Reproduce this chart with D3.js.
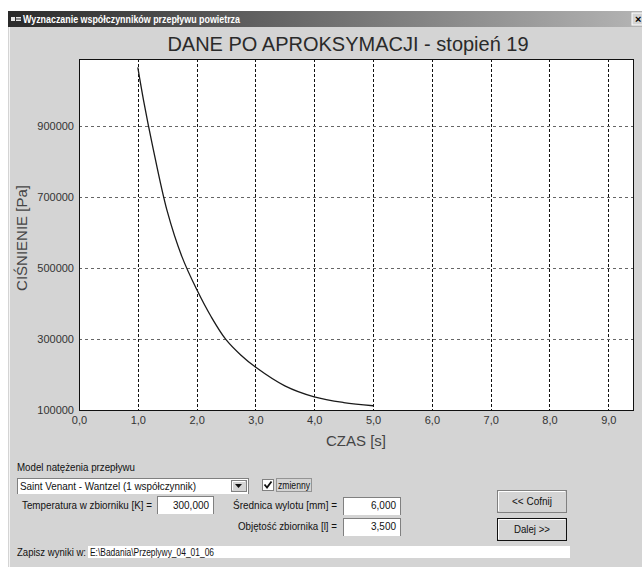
<!DOCTYPE html>
<html>
<head>
<meta charset="utf-8">
<script src="https://cdn.jsdelivr.net/npm/d3@7"></script>
<style>
  body { margin: 0; background: #fff; }
  text { font-family: "Liberation Sans", Arial, sans-serif; }
</style>
</head>
<body>
<div id="chart"></div>
<script>
// values
const timeS = [1.0, 1.1, 1.25, 1.5, 1.75, 2.0, 2.25, 2.5, 2.75, 3.0, 3.5, 4.0, 4.5, 5.0];
const pressurePa = [1065000, 970000, 845000, 660000, 532000, 440000, 362000, 298000, 255000, 221000, 168000, 137000, 121000, 112000];
const xTicks = [0, 1, 2, 3, 4, 5, 6, 7, 8, 9];
const yTicks = [100000, 300000, 500000, 700000, 900000];

const chartTitle = "DANE PO APROKSYMACJI - stopień 19";
const xLabel = "CZAS [s]";
const yLabel = "CIŚNIENIE [Pa]";

const W = 642, H = 567;
const plot = {left: 79, right: 633, top: 59, bottom: 410};

const svg = d3.select("#chart").append("svg")
  .attr("width", W)
  .attr("height", H);

// window chrome
const grad = svg.append("defs").append("linearGradient").attr("id", "tb");
grad.append("stop").attr("offset", "0%").attr("stop-color", "#2a2a2a");
grad.append("stop").attr("offset", "100%").attr("stop-color", "#b4b4b4");

svg.append("rect").attr("x", 8).attr("y", 11).attr("width", W - 8).attr("height", H - 11).attr("fill", "#d4d4d4");
svg.append("line").attr("x1", 9.5).attr("x2", 9.5).attr("y1", 27).attr("y2", H).attr("stroke", "#f4f4f4");
svg.append("rect").attr("x", 8).attr("y", 11).attr("width", W - 8).attr("height", 16).attr("fill", "url(#tb)");
svg.append("rect").attr("x", 11).attr("y", 17).attr("width", 4).attr("height", 4).attr("fill", "#e8e8e8");
svg.append("rect").attr("x", 16).attr("y", 17).attr("width", 5).attr("height", 1.5).attr("fill", "#e8e8e8");
svg.append("rect").attr("x", 16).attr("y", 19.5).attr("width", 5).attr("height", 1.5).attr("fill", "#e8e8e8");
svg.append("text").attr("x", 23).attr("y", 23)
  .attr("fill", "#fff").attr("font-weight", "bold").attr("font-size", 11)
  .attr("textLength", 217).attr("lengthAdjust", "spacingAndGlyphs")
  .text("Wyznaczanie współczynników przepływu powietrza");
svg.append("rect").attr("x", 632).attr("y", 13).attr("width", 12).attr("height", 12).attr("fill", "#d4d4d4").attr("stroke", "#fff");
svg.append("text").attr("x", 635).attr("y", 23).attr("font-size", 11).attr("font-weight", "bold").text("×");

// chart
const x = d3.scaleLinear().domain([0, 9.42]).range([plot.left, plot.right]);
const y = d3.scaleLinear().domain([100000, 1088700]).range([plot.bottom, plot.top]);

svg.append("text")
  .attr("x", 348).attr("y", 51)
  .attr("text-anchor", "middle")
  .attr("font-size", 20)
  .attr("fill", "#2a2a2a")
  .text(chartTitle);

svg.append("rect")
  .attr("x", plot.left).attr("y", plot.top)
  .attr("width", plot.right - plot.left).attr("height", plot.bottom - plot.top)
  .attr("fill", "#fff");

svg.append("g").selectAll("line")
  .data(xTicks.filter(d => d > 0))
  .join("line")
  .attr("x1", d => Math.round(x(d)) + 0.5).attr("x2", d => Math.round(x(d)) + 0.5)
  .attr("y1", plot.top).attr("y2", plot.bottom)
  .attr("stroke", "#111").attr("stroke-dasharray", "3,2");

svg.append("g").selectAll("line")
  .data(yTicks.filter(d => d > 100000))
  .join("line")
  .attr("x1", plot.left).attr("x2", plot.right)
  .attr("y1", d => Math.round(y(d)) + 0.5).attr("y2", d => Math.round(y(d)) + 0.5)
  .attr("stroke", "#666").attr("stroke-dasharray", "3,3");

const line = d3.line()
  .x((d, i) => x(timeS[i]))
  .y(d => y(d))
  .curve(d3.curveCatmullRom.alpha(0.5));

svg.append("path")
  .datum(pressurePa)
  .attr("d", line)
  .attr("fill", "none")
  .attr("stroke", "#1a1a1a")
  .attr("stroke-width", 1.3);

svg.append("rect")
  .attr("x", plot.left + 0.5).attr("y", plot.top + 0.5)
  .attr("width", plot.right - plot.left).attr("height", plot.bottom - plot.top)
  .attr("fill", "none").attr("stroke", "#111");

// axes
const xAxis = svg.append("g")
  .attr("transform", `translate(0,${plot.bottom})`)
  .call(d3.axisBottom(x).tickValues(xTicks).tickSize(0).tickPadding(6)
    .tickFormat(d => d3.format(".1f")(d).replace(".", ",")));
xAxis.select(".domain").remove();
xAxis.selectAll("text").attr("font-size", 11).attr("fill", "#333").attr("font-family", "Liberation Sans");

const yAxis = svg.append("g")
  .attr("transform", `translate(${plot.left - 5},0)`)
  .call(d3.axisLeft(y).tickValues(yTicks).tickSize(0).tickPadding(0).tickFormat(d3.format("d")));
yAxis.select(".domain").remove();
yAxis.selectAll("text").attr("font-size", 11).attr("fill", "#333").attr("font-family", "Liberation Sans");

svg.append("text")
  .attr("x", 356).attr("y", 446)
  .attr("text-anchor", "middle")
  .attr("font-size", 15).attr("fill", "#444")
  .text(xLabel);

svg.append("text")
  .attr("transform", "translate(27,238) rotate(-90)")
  .attr("text-anchor", "middle")
  .attr("font-size", 15).attr("fill", "#444")
  .text(yLabel);

// form controls below the chart
const ui = svg.append("g").attr("font-size", 11).attr("fill", "#111");

function label(txt, x0, yb, len, anchor) {
  ui.append("text").attr("x", x0).attr("y", yb)
    .attr("text-anchor", anchor || "start")
    .attr("textLength", len).attr("lengthAdjust", "spacingAndGlyphs")
    .text(txt);
}

function field(x0, y0, w, h) {
  ui.append("rect").attr("x", x0 + 0.5).attr("y", y0 + 0.5).attr("width", w).attr("height", h)
    .attr("fill", "#fff").attr("stroke", "#808080");
  ui.append("line").attr("x1", x0 + 1).attr("x2", x0 + w).attr("y1", y0 + h + 0.5).attr("y2", y0 + h + 0.5).attr("stroke", "#fff");
}

function button(x0, y0, w, h, dark) {
  ui.append("rect").attr("x", x0 + 0.5).attr("y", y0 + 0.5).attr("width", w).attr("height", h)
    .attr("fill", "#d4d4d4").attr("stroke", dark ? "#111" : "#808080");
  ui.append("polyline")
    .attr("points", `${x0 + 1.5},${y0 + h - 1} ${x0 + 1.5},${y0 + 1.5} ${x0 + w - 1},${y0 + 1.5}`)
    .attr("fill", "none").attr("stroke", "#fff");
}

label("Model natężenia przepływu", 17, 471, 118);

field(17, 478, 231, 15);
label("Saint Venant - Wantzel (1 współczynnik)", 20, 490, 176);
button(231, 480, 15, 11);
ui.append("path").attr("d", "M235,484 L242,484 L238.5,488 Z").attr("fill", "#111");

ui.append("rect").attr("x", 262.5).attr("y", 479.5).attr("width", 11).attr("height", 11)
  .attr("fill", "#fff").attr("stroke", "#808080");
ui.append("path").attr("d", "M264.5,484.5 L267,487.5 L271.5,481.5")
  .attr("fill", "none").attr("stroke", "#111").attr("stroke-width", 1.8);
ui.append("rect").attr("x", 276.5).attr("y", 478.5).attr("width", 35).attr("height", 13)
  .attr("fill", "none").attr("stroke", "#555").attr("stroke-dasharray", "1,1");
label("zmienny", 278, 489, 32);

label("Temperatura w zbiorniku [K] =", 22, 509, 130);
field(157, 496, 56, 17);
label("300,000", 209, 509, 36, "end");

label("Średnica wylotu [mm] =", 233, 509, 104);
field(343, 497, 57, 17);
label("6,000", 396, 509, 25, "end");

label("Objętość zbiornika [l] =", 238, 530, 99);
field(343, 518, 57, 17);
label("3,500", 396, 530, 25, "end");

button(497, 490, 69, 22, false);
label("<< Cofnij", 532, 505, 40, "middle");
button(497, 518, 69, 22, true);
label("Dalej >>", 532, 533, 36, "middle");

label("Zapisz wyniki w:", 17, 556, 69);
ui.append("rect").attr("x", 88).attr("y", 546).attr("width", 482).attr("height", 12).attr("fill", "#fff");
label("E:\\Badania\\Przeplywy_04_01_06", 90, 556, 124);
</script>
</body>
</html>
